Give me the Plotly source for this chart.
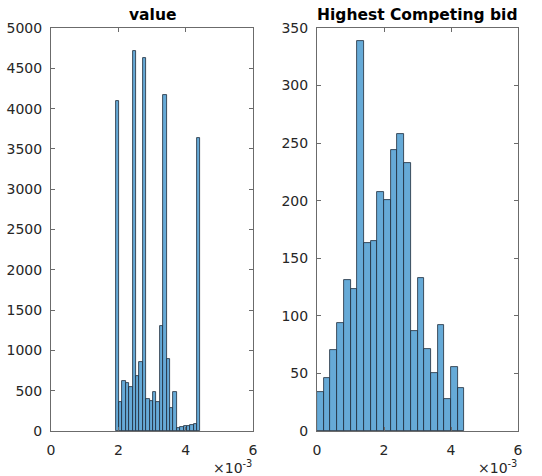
import plotly.graph_objects as go
from plotly.subplots import make_subplots

# ---- data ----
value_bin_start = 1.92e-3
value_bin_width = 0.1008e-3
value_counts = [4095, 355, 624, 591, 550, 4715, 686, 860, 4628, 393, 372, 488, 355,
                1306, 4165, 893, 290, 479, 41, 54, 62, 66, 70, 83, 3632]

bid_bin_start = 0.0
bid_bin_width = 0.2e-3
bid_counts = [34, 46, 70, 94, 131, 123, 339, 163, 165, 208, 201, 244, 258, 233,
              87, 133, 71, 50, 92, 28, 56, 37]

x_tickvals = [0, 0.002, 0.004, 0.006]
x_ticktext = ["0", "2", "4", "6"]
left_yticks = list(range(0, 5001, 500))
right_yticks = list(range(0, 351, 50))
titles = ["value", "Highest Competing bid"]

value_centers = [value_bin_start + (i + 0.5) * value_bin_width for i in range(len(value_counts))]
bid_centers = [bid_bin_start + (i + 0.5) * bid_bin_width for i in range(len(bid_counts))]

W, H = 542, 476
fig = make_subplots(rows=1, cols=2)

face = "#66AAD7"
edge = "#1d2a38"
fig.add_trace(go.Bar(x=value_centers, y=value_counts, width=value_bin_width,
                     marker=dict(color=face, line=dict(color=edge, width=0.8))), row=1, col=1)
fig.add_trace(go.Bar(x=bid_centers, y=bid_counts, width=bid_bin_width,
                     marker=dict(color=face, line=dict(color=edge, width=0.8))), row=1, col=2)

axcol = "#6b6b6b"
tickfont = dict(family="DejaVu Sans", size=14, color="#262626")
common_x = dict(range=[0, 0.006], tickvals=x_tickvals, ticktext=x_ticktext,
                showline=True, linecolor=axcol, linewidth=1, mirror="allticks",
                ticks="inside", ticklen=4, tickcolor=axcol, showgrid=False, zeroline=False,
                tickfont=tickfont, ticklabelstandoff=6, automargin=False)
common_y = dict(showline=True, linecolor=axcol, linewidth=1, mirror="allticks",
                ticks="inside", ticklen=4, tickcolor=axcol, showgrid=False, zeroline=False,
                tickfont=tickfont, ticklabelstandoff=5, automargin=False)

ydom = [1 - 431 / H, 1 - 28 / H]
fig.update_layout(
    width=W, height=H, margin=dict(l=0, r=0, t=0, b=0, autoexpand=False),
    paper_bgcolor="white", plot_bgcolor="white", showlegend=False, bargap=0,
    xaxis=dict(domain=[51 / W, 253 / W], **common_x),
    xaxis2=dict(domain=[317 / W, 518 / W], **common_x),
    yaxis=dict(domain=ydom, range=[0, 5000], tickvals=left_yticks, **common_y),
    yaxis2=dict(domain=ydom, range=[0, 350], tickvals=right_yticks, **common_y),
)

centers = [(51 + 253) / 2 / W, (317 + 518) / 2 / W]
for t, cx in zip(titles, centers):
    fig.add_annotation(text="<b>%s</b>" % t, xref="paper", yref="paper", x=cx, y=1 - 15 / H,
                       xanchor="center", yanchor="middle", showarrow=False,
                       font=dict(family="DejaVu Sans", size=15.5, color="black"))
for rx in [254 / W, 519 / W]:
    fig.add_annotation(text="×10<sup>-3</sup>", xref="paper", yref="paper", x=rx, y=1 - 467 / H,
                       xanchor="right", yanchor="middle", showarrow=False,
                       font=dict(family="DejaVu Sans", size=14, color="#262626"))

fig.write_html("out.html", config={"displayModeBar": False},
               post_script="document.body.style.margin='0';document.body.style.overflow='hidden';")
